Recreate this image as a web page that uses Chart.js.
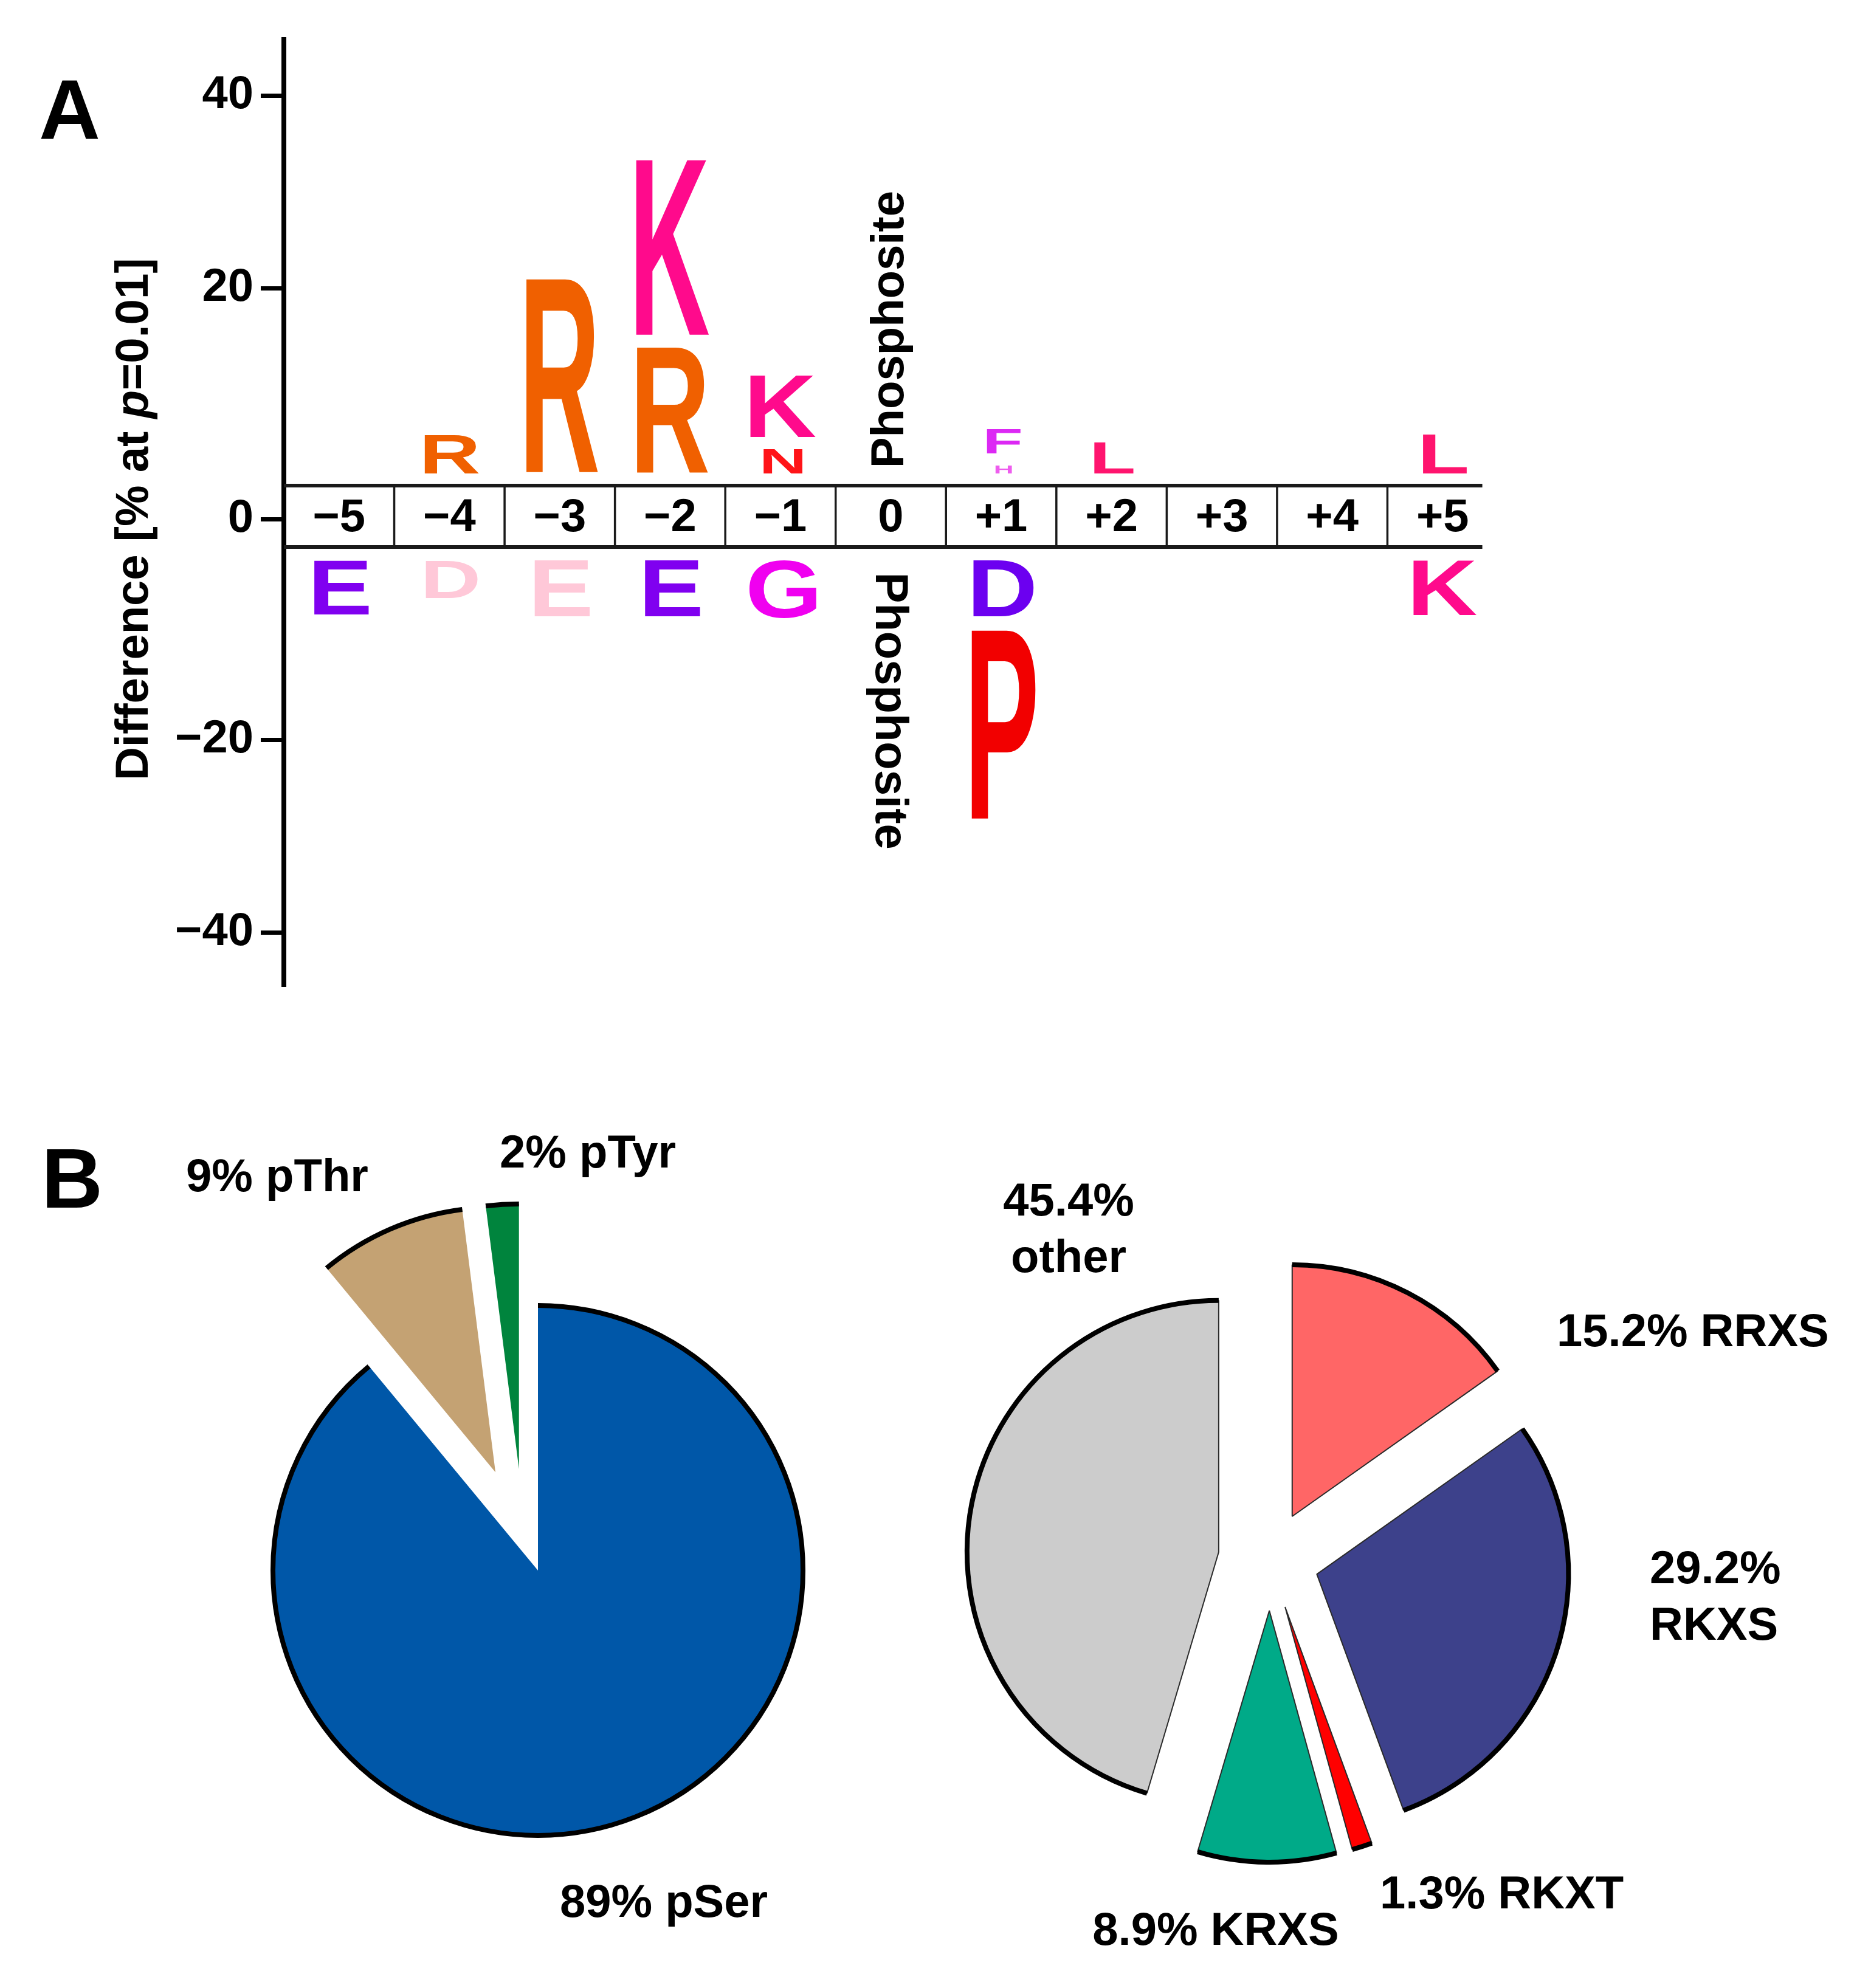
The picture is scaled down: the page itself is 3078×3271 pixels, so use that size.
<!DOCTYPE html>
<html>
<head>
<meta charset="utf-8">
<script src="https://cdn.jsdelivr.net/npm/chart.js@4.4.1/dist/chart.umd.min.js"></script>
<style>
  html, body { margin: 0; padding: 0; background: #fff; }
  #page { position: relative; width: 3078px; height: 3271px; background: #fff; overflow: hidden; }
  canvas { position: absolute; }
</style>
</head>
<body>
<div id="page">
  <canvas id="logoChart" width="2600" height="1700" style="left:0;top:0;width:2600px;height:1700px"></canvas>
  <canvas id="pieLeft" width="1540" height="1571" style="left:0;top:1700px;width:1540px;height:1571px"></canvas>
  <canvas id="pieRight" width="1538" height="1571" style="left:1540px;top:1700px;width:1538px;height:1571px"></canvas>
</div>
<script>
var FONT = '"Liberation Sans", Arial, sans-serif';

// ---- panel A : sequence logo (difference in %) ----
var positions = ['−5', '−4', '−3', '−2', '−1', '0', '+1', '+2', '+3', '+4', '+5'];

var upLetters1 = ['', 'R', 'R', 'R', 'N', '', 'H', 'L', '', '', 'L'];
var upValues1  = [0, 4.0, 20.2, 13.1, 2.5, 0, 0.8, 3.2, 0, 0, 4.0];
var upLetters2 = ['', '', '', 'K', 'K', '', 'F', '', '', '', ''];
var upValues2  = [0, 0, 0, 18.3, 6.4, 0, 2.5, 0, 0, 0, 0];

var downLetters1 = ['E', 'D', 'E', 'E', 'G', '', 'D', '', '', '', 'K'];
var downValues1  = [-5.6, -3.9, -5.8, -5.8, -6.0, 0, -5.8, 0, 0, 0, -5.7];
var downLetters2 = ['', '', '', '', '', '', 'P', '', '', '', ''];
var downValues2  = [0, 0, 0, 0, 0, 0, -19.7, 0, 0, 0, 0];

var tickValues = [-40, -20, 0, 20, 40];
var tickLabels = ['−40', '−20', '0', '20', '40'];

var upColors1   = ['', '#f06000', '#f06000', '#f06000', '#ff1418', '', '#ee5cee', '#ff146e', '', '', '#ff146e'];
var upColors2   = ['', '', '', '#ff0a8c', '#ff0a8c', '', '#dc28f4', '', '', '', ''];
var downColors1 = ['#8000f0', '#ffc8d8', '#ffc8d8', '#8000f0', '#f000f0', '', '#6c00f0', '', '', '', '#ff0a8c'];
var downColors2 = ['', '', '', '', '', '', '#f20000', '', '', '', ''];

// ---- panel B : pies ----
var siteLabels = ['pSer', 'pThr', 'pTyr'];
var siteValues = [89, 9, 2];
var motifLabels = ['RRXS', 'RKXS', 'RKXT', 'KRXS', 'other'];
var motifValues = [15.2, 29.2, 1.3, 8.9, 45.4];

// the band with the position numbers splits the y axis in two
var POS_SHIFT = 3.97, NEG_SHIFT = 2.9;
var BAND_TOP = 3.49, BAND_BOTTOM = -2.88;
var UP_BASE = 4.75, DOWN_BASE = -4.27, LETTER_GAP = 1.3;

function toAxis(v){
    if (v > 0) return v + POS_SHIFT;
    if (v < 0) return v - NEG_SHIFT;
    return 0;
}

function line(ctx, x1, y1, x2, y2){
    ctx.beginPath();
    ctx.moveTo(x1, y1);
    ctx.lineTo(x2, y2);
    ctx.stroke();
}

var letterPlugin = {
    id: 'letters',
    afterDatasetsDraw(chart){
        const ctx = chart.ctx;
        chart.data.datasets.forEach(function(ds, di){
            if (!ds.letters) return;
            chart.getDatasetMeta(di).data.forEach(function(bar, i){
                var ch = ds.letters[i];
                if (!ch) return;
                var top = Math.min(bar.y, bar.base), bottom = Math.max(bar.y, bar.base);
                var h = bottom - top;
                if (h < 1) return;
                ctx.save();
                ctx.font = 'bold 200px ' + FONT;
                ctx.textAlign = 'left';
                ctx.textBaseline = 'alphabetic';
                var m = ctx.measureText(ch);
                var inkW = m.actualBoundingBoxLeft + m.actualBoundingBoxRight;
                var inkH = m.actualBoundingBoxAscent + m.actualBoundingBoxDescent;
                var w = inkW / 200 * 185 * (1 - Math.exp(-h / 45));
                ctx.translate(bar.x + 4 - w / 2, bottom);
                ctx.scale(w / inkW, h / inkH);
                ctx.fillStyle = ds.colors[i];
                ctx.fillText(ch, m.actualBoundingBoxLeft, -m.actualBoundingBoxDescent);
                ctx.restore();
            });
        });
    }
};

var bandPlugin = {
    id: 'band',
    afterDraw(chart){
        const ctx = chart.ctx, xs = chart.scales.x, ys = chart.scales.y, area = chart.chartArea;
        var yTop = ys.getPixelForValue(BAND_TOP), yBot = ys.getPixelForValue(BAND_BOTTOM);
        var cell = xs.getPixelForValue(1) - xs.getPixelForValue(0);
        var xEnd = xs.getPixelForValue(positions.length - 1) + cell * 0.36;
        ctx.save();
        ctx.strokeStyle = '#1a1a1a';
        ctx.lineWidth = 6;
        line(ctx, area.left, yTop, xEnd, yTop);
        line(ctx, area.left, yBot, xEnd, yBot);
        ctx.lineWidth = 3.5;
        for (var i = 0; i < positions.length - 1; i++){
            var xd = xs.getPixelForValue(i) + cell / 2;
            line(ctx, xd, yTop, xd, yBot);
        }
        ctx.fillStyle = '#000';
        ctx.font = 'bold 76px ' + FONT;
        ctx.textAlign = 'center';
        ctx.textBaseline = 'middle';
        positions.forEach(function(p, i){
            ctx.fillText(p, xs.getPixelForValue(i), (yTop + yBot) / 2 + 4);
        });

        // phosphosite column
        var xp = xs.getPixelForValue(5);
        ctx.save();
        ctx.translate(xp, ys.getPixelForValue(19.7));
        ctx.rotate(-Math.PI / 2);
        ctx.fillText('Phosphosite', 0, 0);
        ctx.restore();
        ctx.save();
        ctx.translate(xp - 4, ys.getPixelForValue(-19.9));
        ctx.rotate(Math.PI / 2);
        ctx.fillText('Phosphosite', 0, 0);
        ctx.restore();

        // y axis title with italic p
        var parts = [['Difference [% at ', 'bold'], ['p', 'italic bold'], ['=0.01]', 'bold']];
        var total = 0;
        parts.forEach(function(pt){ ctx.font = pt[1] + ' 76px ' + FONT; total += ctx.measureText(pt[0]).width; });
        ctx.save();
        ctx.translate(222, ys.getPixelForValue(0));
        ctx.rotate(-Math.PI / 2);
        ctx.textAlign = 'left';
        var x = -total / 2;
        parts.forEach(function(pt){
            ctx.font = pt[1] + ' 76px ' + FONT;
            ctx.fillText(pt[0], x, 0);
            x += ctx.measureText(pt[0]).width;
        });
        ctx.restore();

        ctx.font = 'bold 140px ' + FONT;
        ctx.textAlign = 'left';
        ctx.textBaseline = 'alphabetic';
        ctx.fillText('A', 64, 229);
        ctx.restore();
    }
};

function logoSet(values, letters, colors){
    return { data: values, letters: letters, colors: colors };
}

var logoDatasets = [
    { data: positions.map(function(){ return UP_BASE; }) },
    logoSet(upValues1, upLetters1, upColors1),
    { data: upValues2.map(function(v){ return v > 0 ? LETTER_GAP : 0; }) },
    logoSet(upValues2, upLetters2, upColors2),
    { data: positions.map(function(){ return DOWN_BASE; }) },
    logoSet(downValues1, downLetters1, downColors1),
    { data: downValues2.map(function(v){ return v < 0 ? -LETTER_GAP : 0; }) },
    logoSet(downValues2, downLetters2, downColors2)
].map(function(d){
    return Object.assign({ backgroundColor: 'rgba(0,0,0,0)', borderWidth: 0, stack: 'logo',
                           barPercentage: 1, categoryPercentage: 1 }, d);
});

new Chart(document.getElementById('logoChart'), {
    type: 'bar',
    data: { labels: positions, datasets: logoDatasets },
    options: {
        responsive: false, animation: false, devicePixelRatio: 1, events: [],
        layout: { padding: { left: 0, top: 65, right: 136, bottom: 77 } },
        plugins: { legend: { display: false }, tooltip: { enabled: false } },
        scales: {
            x: { type: 'category', stacked: true, offset: true, display: false },
            y: {
                stacked: true, min: -48.5, max: 49.8,
                afterBuildTicks: function(s){ s.ticks = tickValues.map(function(v){ return { value: toAxis(v) }; }); },
                afterFit: function(s){ s.width = 467; },
                ticks: {
                    callback: function(v, i){ return tickLabels[i]; },
                    font: { family: FONT, size: 76, weight: 'bold' }, color: '#000', padding: 12, autoSkip: false
                },
                grid: { drawOnChartArea: false, drawTicks: true, tickLength: 38, tickWidth: 7, tickColor: '#000' },
                border: { display: true, color: '#000', width: 8 }
            }
        }
    },
    plugins: [letterPlugin, bandPlugin]
});

// ---- pies ----
var explodePlugin = {
    id: 'explode',
    afterUpdate(chart){
        var ds = chart.data.datasets[0];
        chart.getDatasetMeta(0).data.forEach(function(arc, i){
            var d = ds.explode[i] || 0;
            var mid = (arc.startAngle + arc.endAngle) / 2 + (ds.explodeTurn ? ds.explodeTurn[i] : 0) * Math.PI / 180;
            arc.x += Math.cos(mid) * d;
            arc.y += Math.sin(mid) * d;
        });
    }
};

var rimPlugin = {
    id: 'rim',
    afterDatasetsDraw(chart, args, opts){
        const ctx = chart.ctx;
        ctx.save();
        ctx.strokeStyle = '#000';
        ctx.lineWidth = opts.width;
        chart.getDatasetMeta(0).data.forEach(function(arc){
            ctx.beginPath();
            ctx.arc(arc.x, arc.y, arc.outerRadius, arc.startAngle, arc.endAngle);
            ctx.stroke();
        });
        ctx.restore();
    }
};

var pieTextPlugin = {
    id: 'pieText',
    afterDraw(chart, args, opts){
        const ctx = chart.ctx, a = chart.chartArea;
        var cx = (a.left + a.right) / 2, cy = (a.top + a.bottom) / 2;
        ctx.save();
        ctx.fillStyle = '#000';
        ctx.textBaseline = 'alphabetic';
        ctx.font = 'bold 76px ' + FONT;
        opts.items.forEach(function(it){
            ctx.textAlign = it.align;
            it.lines.forEach(function(t, k){
                ctx.fillText(t, cx + it.dx, cy + it.dy + k * 93);
            });
        });
        if (opts.panel){
            ctx.font = 'bold 140px ' + FONT;
            ctx.textAlign = 'left';
            ctx.fillText(opts.panel.text, opts.panel.x, opts.panel.y);
        }
        ctx.restore();
    }
};

function pct(v, name){ return v + '% ' + name; }

new Chart(document.getElementById('pieLeft'), {
    type: 'pie',
    data: {
        labels: siteLabels,
        datasets: [{
            data: siteValues,
            backgroundColor: ['#0057a8', '#c4a273', '#00843d'],
            borderWidth: 0,
            explode: [0, 176, 170],
            explodeTurn: [0, 0, -7]
        }]
    },
    options: {
        responsive: false, animation: false, devicePixelRatio: 1, events: [],
        radius: 436,
        layout: { padding: { left: 230, top: 197, right: 0, bottom: 0 } },
        plugins: {
            legend: { display: false }, tooltip: { enabled: false },
            rim: { width: 8 },
            pieText: {
                panel: { text: 'B', x: 68, y: 287 },
                items: [
                    { lines: [pct(siteValues[1], siteLabels[1])], dx: -429, dy: -624, align: 'center' },
                    { lines: [pct(siteValues[2], siteLabels[2])], dx: 82, dy: -663, align: 'center' },
                    { lines: [pct(siteValues[0], siteLabels[0])], dx: 207, dy: 570, align: 'center' }
                ]
            }
        }
    },
    plugins: [explodePlugin, rimPlugin, pieTextPlugin]
});

new Chart(document.getElementById('pieRight'), {
    type: 'pie',
    data: {
        labels: motifLabels,
        datasets: [{
            data: motifValues,
            backgroundColor: ['#ff6666', '#3d418b', '#ff0000', '#00aa88', '#cccccc'],
            borderColor: '#2a2a2a',
            borderWidth: 2,
            explode: [80, 81, 82, 84, 85]
        }]
    },
    options: {
        responsive: false, animation: false, devicePixelRatio: 1, events: [],
        radius: 414,
        layout: { padding: { left: 0, top: 161, right: 440, bottom: 0 } },
        plugins: {
            legend: { display: false }, tooltip: { enabled: false },
            rim: { width: 8 },
            pieText: {
                items: [
                    { lines: [motifValues[4] + '%', motifLabels[4]], dx: -331, dy: -566, align: 'center' },
                    { lines: [pct(motifValues[0], motifLabels[0])], dx: 472, dy: -351, align: 'left' },
                    { lines: [motifValues[1] + '%', motifLabels[1]], dx: 625, dy: 39, align: 'left' },
                    { lines: [pct(motifValues[2], motifLabels[2])], dx: 181, dy: 574, align: 'left' },
                    { lines: [pct(motifValues[3], motifLabels[3])], dx: -89, dy: 634, align: 'center' }
                ]
            }
        }
    },
    plugins: [explodePlugin, rimPlugin, pieTextPlugin]
});
</script>
</body>
</html>
